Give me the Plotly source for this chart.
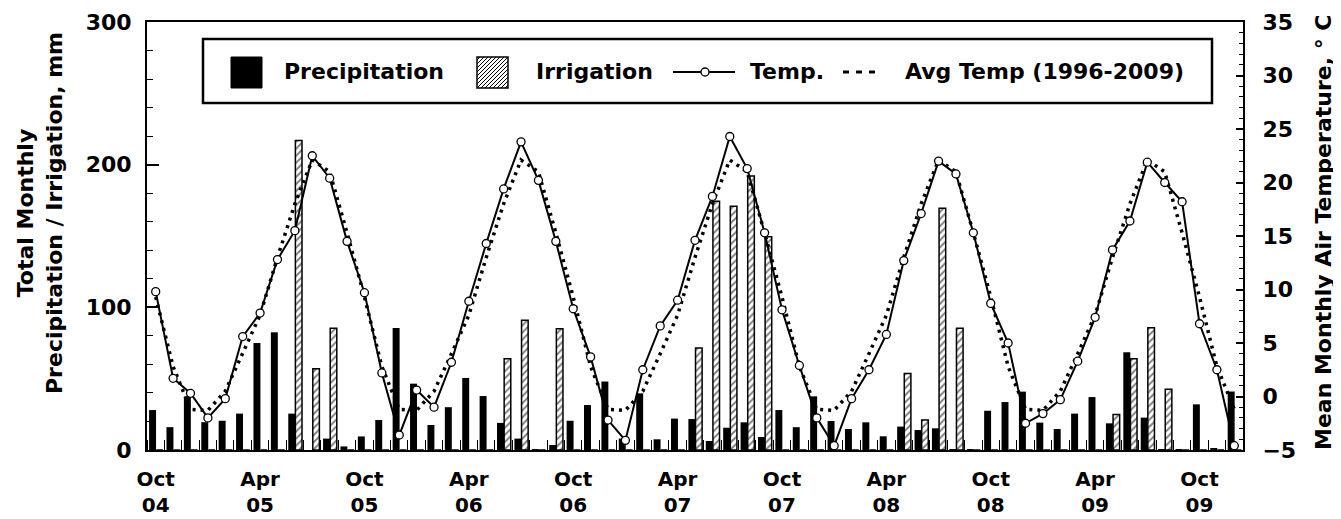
import plotly.graph_objects as go

# ---------------- data (Oct 2004 .. Dec 2009, monthly) ----------------
month_labels = ["Oct<br>04", "Apr<br>05", "Oct<br>05", "Apr<br>06", "Oct<br>06", "Apr<br>07",
                "Oct<br>07", "Apr<br>08", "Oct<br>08", "Apr<br>09", "Oct<br>09"]
label_months = [0, 6, 12, 18, 24, 30, 36, 42, 48, 54, 60]

months = list(range(63))

precipitation = [28, 16, 37.5, 19.5, 20.5, 25.5, 75, 82.5, 25.5, 0, 8, 2.5,
                 9.5, 21, 85.5, 46.5, 17.5, 30, 50.5, 37.8, 19, 8, 0.5, 3.5,
                 20.5, 31.5, 48, 8, 39.7, 7.5, 22, 21.7, 6.3, 15.6, 19.4, 9.1,
                 28, 16, 37.6, 20.3, 14.7, 19.4, 9.6, 16.4, 14, 15.2, 0.5, 0.5,
                 27.5, 33.6, 40.9, 19.2, 14.7, 25.5, 37.1, 18.7, 68.5, 22.7, 0.5, 0.5,
                 32, 1.3, 41]

irrigation = [0, 0, 0, 0, 0, 0, 0, 0, 217, 57, 85.3, 0,
              0, 0, 0, 0, 0, 0, 0, 0, 64, 91, 0, 85,
              0, 0, 0, 0, 0, 0, 0, 71.5, 174.3, 170.8, 192, 149.5,
              0, 0, 0, 0, 0, 0, 0, 53.7, 21, 169.4, 85.3, 0,
              0, 0, 0, 0, 0, 0, 0, 24.8, 64, 85.7, 42.6, 0,
              0, 0, 0]

temperature = [9.8, 1.7, 0.3, -2.0, -0.2, 5.6, 7.8, 12.8, 15.5, 22.5, 20.4, 14.5,
               9.7, 2.2, -3.6, 0.6, -1.0, 3.2, 8.9, 14.3, 19.4, 23.8, 20.2, 14.5,
               8.2, 3.7, -2.2, -4.1, 2.5, 6.6, 9.0, 14.6, 18.7, 24.3, 21.3, 15.3,
               8.1, 2.9, -2.0, -4.6, -0.2, 2.5, 5.8, 12.7, 17.1, 22.0, 20.8, 15.3,
               8.7, 5.0, -2.5, -1.6, -0.3, 3.3, 7.4, 13.7, 16.4, 21.9, 20.0, 18.2,
               6.8, 2.5, -4.6]

avg_temperature = [9.3, 2.8, -1.2, -1.3, 0.5, 4.0, 7.6, 13.0, 18.0, 22.1, 21.0, 15.3,
                   9.3, 2.8, -1.2, -1.3, 0.5, 4.0, 7.6, 13.0, 18.0, 22.1, 21.0, 15.3,
                   9.3, 2.8, -1.2, -1.3, 0.5, 4.0, 7.6, 13.0, 18.0, 22.1, 21.0, 15.3,
                   9.3, 2.8, -1.2, -1.3, 0.5, 4.0, 7.6, 13.0, 18.0, 22.1, 21.0, 15.3,
                   9.3, 2.8, -1.2, -1.3, 0.5, 4.0, 7.6, 13.0, 18.0, 22.1, 21.0, 15.3,
                   9.3, 2.8, -1.2]

# ---------------- layout geometry ----------------
# The page body adds an 8 px margin, so the figure is made 8 px smaller and
# positions below are given in window pixels and shifted by OFF.
OFF = 8
W, H = 1341 - OFF, 519 - OFF
L, R, T, B = 147, 1243, 22, 450  # plot area in window pixels


def px(x):
    return (x - L) / (R - L)


def py(y):
    return (B - y) / (B - T)


FONT = dict(family="DejaVu Sans", size=22, color="black", weight="bold")
TICKFONT = dict(family="DejaVu Sans", size=22, color="black", weight="bold")
XTICKFONT = dict(family="DejaVu Sans", size=20, color="black", weight="bold")

fig = go.Figure()

fig.add_trace(go.Bar(
    x=months, y=precipitation, name="Precipitation",
    offset=-0.38, width=0.4,
    marker=dict(color="black", line=dict(width=0)),
    yaxis="y", showlegend=False))

fig.add_trace(go.Bar(
    x=months, y=irrigation, name="Irrigation",
    offset=0.03, width=0.38,
    marker=dict(color="white", line=dict(color="black", width=1.5),
                pattern=dict(shape="/", fgcolor="black", bgcolor="white",
                             size=5, solidity=0.4)),
    yaxis="y", showlegend=False))

fig.add_trace(go.Scatter(
    x=months, y=avg_temperature, name="Avg Temp (1996-2009)", mode="lines",
    line=dict(color="black", width=3.5, dash="3px,5px"),
    yaxis="y2", showlegend=False))

fig.add_trace(go.Scatter(
    x=months, y=temperature, name="Temp.", mode="lines+markers",
    line=dict(color="black", width=2),
    marker=dict(symbol="circle", size=8, color="white",
                line=dict(color="black", width=1.3)),
    yaxis="y2", showlegend=False))

# ---------------- custom legend ----------------
shapes = []
annotations = []

shapes.append(dict(type="rect", xref="paper", yref="paper",
                   x0=px(203), x1=px(1212), y0=py(103), y1=py(39),
                   line=dict(color="black", width=2.5), fillcolor="white", layer="above"))
# precipitation swatch
shapes.append(dict(type="rect", xref="paper", yref="paper",
                   x0=px(231), x1=px(262), y0=py(88), y1=py(57),
                   line=dict(color="black", width=1), fillcolor="black", layer="above"))
# irrigation swatch (hatched)
sx0, sx1, sy0, sy1 = 477, 508, 57, 88
shapes.append(dict(type="rect", xref="paper", yref="paper",
                   x0=px(sx0), x1=px(sx1), y0=py(sy1), y1=py(sy0),
                   line=dict(color="black", width=1.5), fillcolor="white", layer="above"))
size = sx1 - sx0
path = ""
k = -size + 3
while k < size:
    ax, ay = sx0 + k, sy1
    bx, by = sx0 + k + size, sy0
    if ax < sx0:
        ay = sy1 - (sx0 - ax)
        ax = sx0
    if bx > sx1:
        by = sy0 + (bx - sx1)
        bx = sx1
    path += f"M{px(ax)},{py(ay)} L{px(bx)},{py(by)} "
    k += 4
shapes.append(dict(type="path", xref="paper", yref="paper", path=path,
                   line=dict(color="black", width=1), layer="above"))
# temp swatch
shapes.append(dict(type="line", xref="paper", yref="paper",
                   x0=px(673), x1=px(735), y0=py(72), y1=py(72),
                   line=dict(color="black", width=2), layer="above"))
shapes.append(dict(type="circle", xref="paper", yref="paper",
                   x0=px(701), x1=px(709), y0=py(76), y1=py(68),
                   line=dict(color="black", width=1.3), fillcolor="white", layer="above"))
# avg temp swatch
shapes.append(dict(type="line", xref="paper", yref="paper",
                   x0=px(843), x1=px(875), y0=py(72), y1=py(72),
                   line=dict(color="black", width=3, dash="6px,7px"), layer="above"))

for text, xpix in [("Precipitation", 282), ("Irrigation", 534), ("Temp.", 748),
                   ("Avg Temp (1996-2009)", 903)]:
    annotations.append(dict(text=text, xref="paper", yref="paper", x=px(xpix), y=py(72),
                            xanchor="left", yanchor="middle", showarrow=False, font=FONT))

# axis titles
annotations.append(dict(text="Total Monthly<br>Precipitation / Irrigation, mm",
                        xref="paper", yref="paper", x=px(40), y=py(213),
                        xanchor="center", yanchor="middle", textangle=-90,
                        showarrow=False, font=FONT))
annotations.append(dict(text="Mean Monthly Air Temperature, \u00b0 C",
                        xref="paper", yref="paper", x=px(1323), y=py(232),
                        xanchor="center", yanchor="middle", textangle=-90,
                        showarrow=False, font=FONT))

fig.update_layout(
    width=W, height=H,
    margin=dict(l=L - OFF, r=W - (R - OFF), t=T - OFF, b=H - (B - OFF), pad=0,
                autoexpand=False),
    plot_bgcolor="white", paper_bgcolor="white",
    barmode="overlay",
    shapes=shapes, annotations=annotations,
    showlegend=False,
    xaxis=dict(range=[-0.5, 62.5], showgrid=False, zeroline=False, automargin=False,
               showline=True, linecolor="black", linewidth=2, mirror=True,
               tickmode="array", tickvals=label_months, ticktext=month_labels,
               ticks="", tickfont=XTICKFONT, ticklabelstandoff=10,
               minor=dict(tickmode="array",
                          tickvals=[m + 0.5 for m in range(-1, 63)],
                          ticks="inside", ticklen=10, tickcolor="black", tickwidth=1)),
    yaxis=dict(range=[0, 300], showgrid=False, zeroline=False, automargin=False,
               showline=True, linecolor="black", linewidth=2,
               tickmode="array", tickvals=[0, 100, 200, 300],
               ticks="inside", ticklen=12, tickwidth=2, tickcolor="black",
               tickfont=TICKFONT, ticklabelstandoff=9,
               minor=dict(dtick=20, ticks="inside", ticklen=6, tickcolor="black", tickwidth=1)),
    yaxis2=dict(range=[-5, 35], overlaying="y", side="right", showgrid=False, zeroline=False,
                automargin=False,
                showline=True, linecolor="black", linewidth=2,
                tickmode="linear", tick0=-5, dtick=5,
                ticks="inside", ticklen=7, tickwidth=1.5, tickcolor="black",
                tickfont=TICKFONT, ticklabelstandoff=13,
                minor=dict(dtick=1, ticks="inside", ticklen=4, tickcolor="black", tickwidth=1)),
)

fig.write_html("out.html")
